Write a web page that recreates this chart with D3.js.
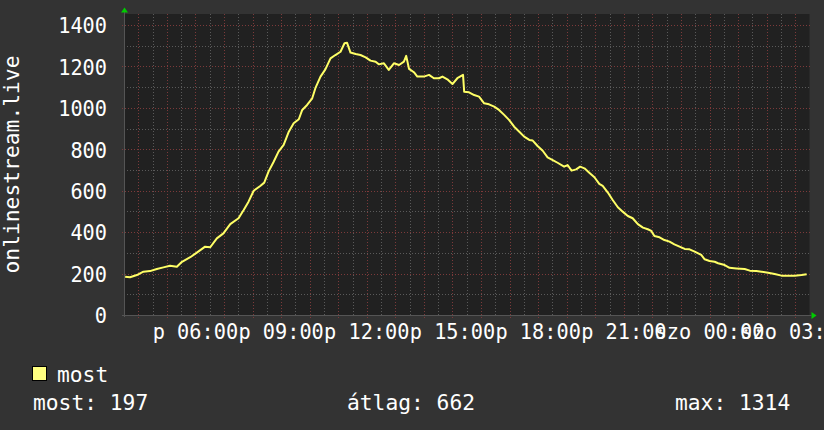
<!DOCTYPE html>
<html><head><meta charset="utf-8">
<script src="https://cdn.jsdelivr.net/npm/d3@7"></script>
<style>
html,body{margin:0;padding:0;background:#333333;}
svg{display:block;}
text{font-family:"DejaVu Sans Mono",monospace;fill:#ffffff;}
</style></head>
<body>
<script>
// ---- data ----
const dayNames = ["v","h","k","sze","cs","p","szo"];
const yTicks = [0,200,400,600,800,1000,1200,1400];
const seriesName = "most";
const legendStats = ["most: 197","átlag: 662","max: 1314"];
const yTitle = "onlinestream.live";
// hours since Friday 00:00
const hours = [3.54,3.71,3.95,4.18,4.41,4.65,4.88,5.11,5.35,5.53,5.82,6.05,6.34,6.52,6.75,6.98,7.22,7.51,7.69,7.86,8.04,8.27,8.41,8.56,8.74,
  8.91,9.09,9.27,9.44,9.62,9.74,9.91,10.09,10.2,10.38,10.55,10.73,10.9,11.08,11.22,11.31,11.43,11.61,11.78,11.96,12.13,12.31,12.42,12.6,12.77,12.95,13.13,13.3,13.38,13.48,13.65,13.77,
  14.0,14.18,14.35,14.53,14.65,14.82,15.0,15.17,15.37,15.41,15.58,15.76,15.93,16.11,16.28,16.46,16.63,16.81,16.98,17.16,17.34,17.51,17.69,17.81,17.98,18.16,18.33,18.51,18.68,
  18.91,19.03,19.17,19.33,19.47,19.62,19.79,19.97,20.14,20.26,20.44,20.61,20.79,20.96,21.14,21.31,21.49,21.67,21.84,21.96,22.07,22.25,22.42,22.6,22.77,22.95,23.13,23.3,23.48,23.71,
  23.83,24.0,24.18,24.3,24.53,24.7,24.94,25.23,25.41,25.64,25.82,26.05,26.28,26.52,26.75,26.98,27.22,27.4];
const values = [185,182,193,209,212,222,230,238,233,257,279,301,330,327,370,394,439,467,507,547,600,623,639,692,740,
  789,821,885,926,945,990,1014,1046,1095,1151,1186,1239,1255,1271,1312,1314,1267,1260,1255,1244,1228,1223,1210,1215,1183,1215,1207,1223,1251,1188,1172,1151,
  1151,1159,1143,1143,1151,1138,1115,1143,1159,1078,1075,1062,1054,1022,1017,1006,990,966,942,909,885,861,845,842,816,793,761,748,735,
  716,724,697,703,716,708,687,665,633,623,591,555,520,499,478,467,439,422,414,406,381,375,362,354,341,330,319,317,306,290,
  269,261,257,250,241,228,225,222,214,212,209,204,198,190,190,190,193,197];

// ---- layout ----
const W = 824, H = 430;
const plot = {left:124, right:809.5, top:14, bottom:315};
const base = Date.UTC(2024,0,5); // a Friday
const t = h => new Date(base + h*3600000);

const svg = d3.select("body").append("svg").attr("width",W).attr("height",H);
svg.append("rect").attr("width",W).attr("height",H).attr("fill","#333333");
svg.append("rect").attr("x",plot.left).attr("y",plot.top)
  .attr("width",plot.right-plot.left).attr("height",plot.bottom-plot.top).attr("fill","#212121");

const x = d3.scaleUtc().domain([t(3.5), t(27.5)]).range([plot.left, plot.right]);
const y = d3.scaleLinear().domain([0,1400]).range([plot.bottom, 25]);

// grid
const minorX = d3.utcMinute.every(30).range(x.domain()[0], x.domain()[1]);
const majorX = d3.utcHour.every(1).range(x.domain()[0], x.domain()[1]);
const minorY = d3.range(100, 1401, 200);
const g = svg.append("g");
g.selectAll(".mx").data(minorX).enter().append("line")
  .attr("x1",d=>Math.round(x(d))+0.5).attr("x2",d=>Math.round(x(d))+0.5)
  .attr("y1",plot.top).attr("y2",plot.bottom)
  .attr("stroke","#5a5a5a").attr("stroke-dasharray","1,2");
g.selectAll(".my").data(minorY).enter().append("line")
  .attr("x1",plot.left).attr("x2",plot.right)
  .attr("y1",d=>Math.round(y(d))+0.5).attr("y2",d=>Math.round(y(d))+0.5)
  .attr("stroke","#5a5a5a").attr("stroke-dasharray","1,2");
g.selectAll(".Mx").data(majorX).enter().append("line")
  .attr("x1",d=>Math.round(x(d))+0.5).attr("x2",d=>Math.round(x(d))+0.5)
  .attr("y1",plot.top).attr("y2",plot.bottom+3)
  .attr("stroke","#7c3a3a").attr("stroke-dasharray","1,2");
g.selectAll(".My").data(yTicks.filter(v=>v>0)).enter().append("line")
  .attr("x1",plot.left-2).attr("x2",plot.right+2)
  .attr("y1",d=>Math.round(y(d))+0.5).attr("y2",d=>Math.round(y(d))+0.5)
  .attr("stroke","#7c3a3a").attr("stroke-dasharray","1,2");
// axes
g.append("line").attr("x1",plot.left-2).attr("x2",plot.right+2)
  .attr("y1",plot.bottom+0.5).attr("y2",plot.bottom+0.5).attr("stroke","#555");
g.append("line").attr("x1",plot.left+0.5).attr("x2",plot.left+0.5)
  .attr("y1",plot.top-2).attr("y2",plot.bottom+2).attr("stroke","#555");
// arrows
svg.append("path").attr("d",`M${plot.left-3},${plot.top-1.5} L${plot.left+0.5},${plot.top-6.5} L${plot.left+4},${plot.top-1.5} Z`).attr("fill","#00cc00");
svg.append("path").attr("d",`M${plot.right+2},${plot.bottom-3} L${plot.right+7},${plot.bottom+0.5} L${plot.right+2},${plot.bottom+4} Z`).attr("fill","#00cc00");

// y labels
svg.selectAll(".yl").data(yTicks).enter().append("text")
  .attr("x",107).attr("y",d=>y(d)+8.3).attr("text-anchor","end")
  .attr("font-size",22).attr("textLength",d=>String(d).length*12.2).attr("lengthAdjust","spacingAndGlyphs")
  .text(d=>d);
// x labels
const xLabTicks = d3.utcHour.every(3).range(x.domain()[0], x.domain()[1]);
const fmt = d => dayNames[d.getUTCDay()] + " " + d3.utcFormat("%H:%M")(d);
svg.selectAll(".xl").data(xLabTicks).enter().append("text")
  .attr("x",d=>x(d)).attr("y",338.5).attr("text-anchor","middle")
  .attr("font-size",22).attr("textLength",d=>fmt(d).length*12.2).attr("lengthAdjust","spacingAndGlyphs")
  .text(fmt);
// y title
svg.append("text").attr("transform",`translate(19,${(plot.top+plot.bottom)/2}) rotate(-90)`)
  .attr("text-anchor","middle").attr("font-size",22)
  .attr("textLength",218).attr("lengthAdjust","spacingAndGlyphs").text(yTitle);

// line
const line = d3.line().x(d=>x(t(d[0]))).y(d=>y(d[1]));
svg.append("path").datum(hours.map((h,i)=>[h,values[i]]))
  .attr("d",line).attr("fill","none").attr("stroke","#ffff66").attr("stroke-width",2)
  .attr("stroke-linejoin","round");

// legend
svg.append("rect").attr("x",32.5).attr("y",366.5).attr("width",14).attr("height",14)
  .attr("fill","#ffff80").attr("stroke","#000");
svg.append("text").attr("x",57).attr("y",382).attr("font-size",22)
  .attr("textLength",seriesName.length*12.8).attr("lengthAdjust","spacingAndGlyphs").text(seriesName);
const statX = [33, 347, 675];
svg.selectAll(".st").data(legendStats).enter().append("text")
  .attr("x",(d,i)=>statX[i]).attr("y",410).attr("font-size",22)
  .attr("textLength",d=>d.length*12.8).attr("lengthAdjust","spacingAndGlyphs").text(d=>d);
</script>
</body></html>
